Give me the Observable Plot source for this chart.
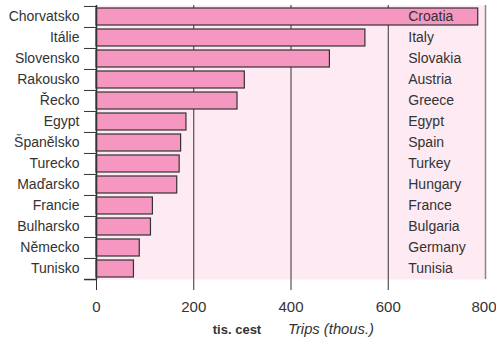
<!DOCTYPE html>
<html>
<head>
<meta charset="utf-8">
<script src="https://cdn.jsdelivr.net/npm/d3@7"></script>
<script src="https://cdn.jsdelivr.net/npm/@observablehq/plot@0.6"></script>
<style>
  html, body { margin: 0; padding: 0; background: #fff; }
  svg { display: block; }
</style>
</head>
<body>
<div id="chart"></div>
<script>
const countriesCz = ["Chorvatsko","Itálie","Slovensko","Rakousko","Řecko","Egypt","Španělsko","Turecko","Maďarsko","Francie","Bulharsko","Německo","Tunisko"];
const countriesEn = ["Croatia","Italy","Slovakia","Austria","Greece","Egypt","Spain","Turkey","Hungary","France","Bulgaria","Germany","Tunisia"];
const trips = [785, 553, 480, 305, 290, 185, 174, 171, 166, 116, 112, 89, 77];
const xTicks = [0, 200, 400, 600, 800];

const data = countriesCz.map((c, i) => ({cz: c, en: countriesEn[i], v: trips[i]}));

const W = 496, H = 339;
const mL = 96, mR = 11, mT = 5, mB = 60;
const step = (H - mT - mB) / countriesCz.length;
const font = "Liberation Sans, Arial, Helvetica, sans-serif";

const plot = Plot.plot({
  width: W,
  height: H,
  marginLeft: mL,
  marginRight: mR,
  marginTop: mT,
  marginBottom: mB,
  style: {fontFamily: font, fontSize: "14px", color: "#333", background: "#fff"},
  x: {domain: [0, 800], ticks: xTicks, label: null},
  y: {domain: countriesCz, paddingInner: 0.2, paddingOuter: 0.1, label: null},
  marks: [
    Plot.frame({fill: "#fdeaf2", stroke: null}),
    Plot.ruleX([200, 400, 600], {stroke: "#333", strokeWidth: 1}),
    Plot.barX(data, {y: "cz", x: "v", fill: "#f597c0", stroke: "#333", strokeWidth: 1.2}),
    Plot.text(data, {y: "cz", x: 600, text: "en", dx: 20, textAnchor: "start", fill: "#333", fontSize: 14}),
    Plot.ruleY([0], {frameAnchor: "top", stroke: "#888", strokeWidth: 2}),
    Plot.axisY({tickSize: 12, text: null, dy: -step / 2, stroke: "#333"}),
    Plot.axisY([countriesCz[countriesCz.length - 1]], {tickSize: 12, text: null, dy: step / 2, stroke: "#333", strokeWidth: 1.5}),
    Plot.axisY({tickSize: 0, tickPadding: 17, fontSize: 14, fill: "#333"}),
    Plot.ruleX([0], {stroke: "#333", strokeWidth: 1.5}),
    Plot.ruleX([800], {stroke: "#888", strokeWidth: 1.5}),
    Plot.axisX(xTicks.slice(0, 4), {tickSize: 11, tickPadding: 11, fontSize: 15, fill: "#333", stroke: "#333", label: null}),
    Plot.axisX([800], {tickSize: 11, tickPadding: 11, fontSize: 15, fill: "#333", stroke: "#888", textAnchor: "end", dx: 11, label: null})
  ]
});

document.getElementById("chart").appendChild(plot);

const svg = d3.select(plot);
svg.append("text")
  .attr("x", 237).attr("y", 334)
  .attr("text-anchor", "middle")
  .attr("font-family", font).attr("font-size", 13).attr("font-weight", "bold").attr("fill", "#333")
  .text("tis. cest");
svg.append("text")
  .attr("x", 288).attr("y", 334)
  .attr("text-anchor", "start")
  .attr("font-family", font).attr("font-size", 14.5).attr("font-style", "italic").attr("fill", "#333")
  .attr("textLength", 86).attr("lengthAdjust", "spacingAndGlyphs")
  .text("Trips (thous.)");
</script>
</body>
</html>
